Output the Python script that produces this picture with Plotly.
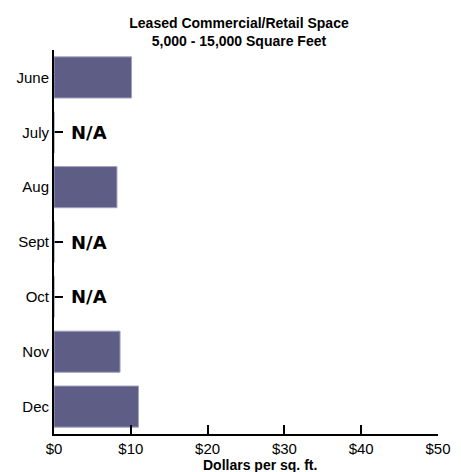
import plotly.graph_objects as go

months = ["June", "July", "Aug", "Sept", "Oct", "Nov", "Dec"]
dollars = [10.1, None, 8.2, None, None, 8.6, 11.0]
x_ticks = [0, 10, 20, 30, 40, 50]
x_tick_labels = ["$0", "$10", "$20", "$30", "$40", "$50"]

fig = go.Figure()
fig.add_trace(go.Bar(
    y=months, x=[v if v is not None else 0 for v in dollars], orientation="h",
    marker=dict(color="#5e5d86", line=dict(color="#a3a2c0", width=1)),
    width=0.75, hoverinfo="x+y",
))

for m, v in zip(months, dollars):
    if v is None:
        fig.add_annotation(x=2.0, y=m, text="<b>N/A</b>", showarrow=False, xanchor="left",
                           font=dict(family="DejaVu Sans", size=18, color="black"))

fig.add_annotation(xref="paper", yref="paper", x=0.536, y=-31 / 384, yanchor="middle",
                   text="<b>Dollars per sq. ft.</b>", showarrow=False,
                   font=dict(family="Liberation Sans, Arial", size=14, color="black"))

fig.update_layout(
    width=461, height=472,
    margin=dict(l=54, r=23, t=50, b=38),
    paper_bgcolor="white", plot_bgcolor="white",
    showlegend=False,
    title=dict(text="<b>Leased Commercial/Retail Space<br>5,000 - 15,000 Square Feet</b>",
               x=239 / 461, xanchor="center", y=1 - 28 / 472, yanchor="middle",
               font=dict(family="Liberation Sans, Arial", size=14, color="black")),
    font=dict(family="Liberation Sans, Arial", size=15, color="black"),
)
fig.update_xaxes(
    range=[0, 50], tickvals=x_ticks, ticktext=x_tick_labels, automargin=False,
    showgrid=False, zeroline=False, showline=True, linecolor="black", linewidth=2,
    ticks="inside", ticklen=9, tickwidth=2, tickcolor="black",
    tickfont=dict(size=15), fixedrange=True, ticklabelstandoff=0,
)
fig.update_yaxes(
    categoryorder="array", categoryarray=months, range=[6.5, -0.5], automargin=False,
    showgrid=False, zeroline=False, showline=True, linecolor="black", linewidth=2,
    ticks="inside", ticklen=9, tickwidth=2, tickcolor="black", layer="below traces",
    tickfont=dict(size=15),
)
fig.write_html("out.html", config={"displayModeBar": False},
               post_script="document.body.style.margin='0';")
